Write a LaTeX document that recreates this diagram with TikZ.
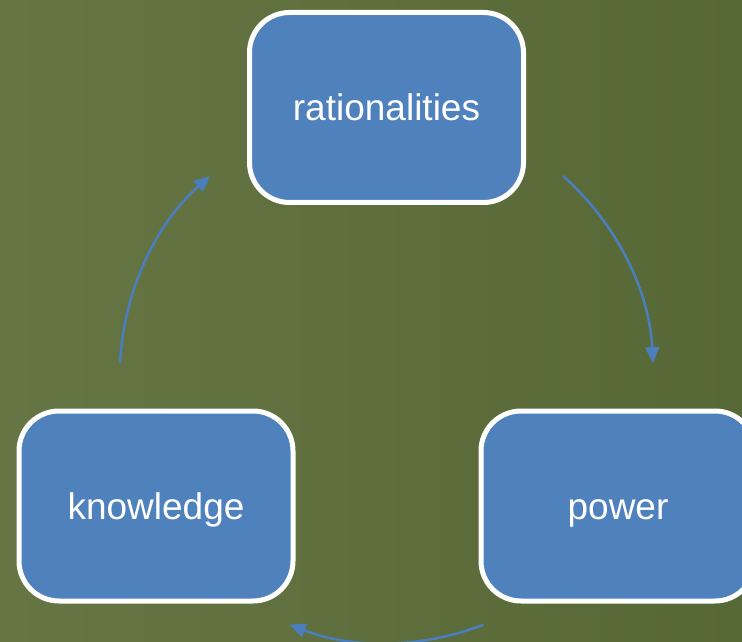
\documentclass[tikz,border=0pt]{standalone}
\usepackage{fontspec}
\setmainfont{Liberation Sans}
\usetikzlibrary{arrows.meta}
\definecolor{boxblue}{HTML}{4F81BD}
\definecolor{arcblue}{HTML}{4A7EBF}
\definecolor{oliveL}{RGB}{102,117,68}
\definecolor{oliveM}{RGB}{90,112,62}
\definecolor{oliveR}{RGB}{86,104,54}

\begin{document}
\begin{tikzpicture}[x=1pt,y=1pt,
stage/.style={rectangle, rounded corners=40pt, draw=white, line width=5pt, fill=boxblue, minimum width=274pt, minimum height=190pt, text height=27pt, text depth=0pt, text=white, font=\fontsize{37}{44}\selectfont},
cycle/.style={draw=arcblue, line width=2.5pt, -{Triangle[length=16pt,width=14pt]}}
]
\useasboundingbox (0,0) rectangle (742,641);
\clip (0,0) rectangle (742,641);
\shade[left color=oliveL, middle color=oliveM, right color=oliveR] (0,0) rectangle (742,641);
\node[stage] (rationalities) at (386.5,533.5) {rationalities};
\node[stage] (knowledge) at (156,135) {knowledge};
\node[stage] (power) at (618,135) {power};
\coordinate (hub) at (386.5,264.9);
\draw[cycle] (hub) ++(177.2:266.8) arc[start angle=177.2, end angle=131.4, radius=266.8];
\draw[cycle] (hub) ++(48.6:266.8) arc[start angle=48.6, end angle=2.8, radius=266.8];
\draw[cycle] (hub) ++(-68.7:266.8) arc[start angle=-68.7, end angle=-111.3, radius=266.8];
\end{tikzpicture}
\end{document}
